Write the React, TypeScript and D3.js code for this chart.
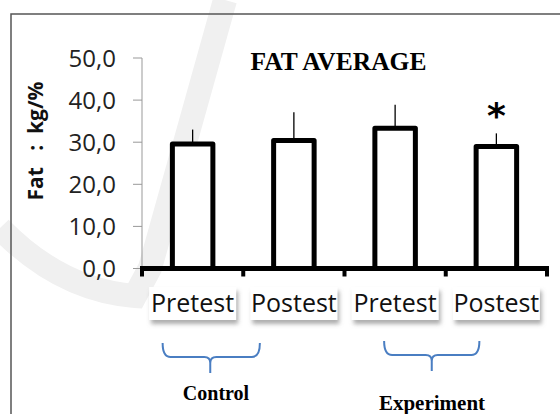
import React from "react";
import * as d3 from "d3";

const categories = ["Pretest", "Postest", "Pretest", "Postest"];
const means = [29.6, 30.4, 33.3, 29.0];
const errTops = [33.0, 37.1, 38.9, 32.1];
const yTicks = [0, 10, 20, 30, 40, 50];
const groups = ["Control", "Experiment"];
const title = "FAT AVERAGE";
const yLabel = "Fat   :  kg/%";

const W = 560;
const H = 414;

export default function App() {
  const x = d3
    .scaleBand<number>()
    .domain(categories.map((_, i) => i))
    .range([142, 547])
    .paddingInner(0.6)
    .paddingOuter(0.3);
  const y = d3.scaleLinear().domain([0, 50]).range([268.5, 58]);
  const step = x.step();
  const xc = (i: number) => (x(i) as number) + x.bandwidth() / 2;
  const bounds = d3.range(categories.length + 1).map((i) => 142 + i * step);
  const fmt = (v: number) => d3.format(".1f")(v).replace(".", ",");

  const brace = (l: number, r: number, c: number, top: number) => {
    const h = top + 14;
    return `M${l},${top} Q${l},${h} ${l + 8},${h} L${c - 6},${h} Q${c},${h} ${c},${h + 6} L${c},${h + 16} M${c},${h + 6} Q${c},${h} ${c + 6},${h} L${r - 8},${h} Q${r},${h} ${r},${top}`;
  };

  const braceDefs = [
    { l: xc(0) - 30, r: xc(1) - 34, c: (xc(0) + xc(1)) / 2 - 33, top: 343, tx: 216, ty: 400, fs: 20 },
    { l: xc(2) - 11, r: xc(3) - 17, c: (xc(2) + xc(3)) / 2 - 14, top: 341, tx: 432, ty: 410, fs: 21 },
  ];

  return (
    <svg width={W} height={H} style={{ position: "absolute", left: 0, top: 0, background: "#fff" }}>
      <defs>
        <filter id="sh" x="-20%" y="-30%" width="150%" height="180%">
          <feDropShadow dx="2" dy="4" stdDeviation="2" floodColor="#777" floodOpacity="0.6" />
        </filter>
      </defs>
      <rect width={W} height={H} fill="#fff" />
      {/* faint background swoosh */}
      <path
        d="M0,228 Q60,290 135,296 L150,268 L225,0"
        fill="none"
        stroke="#f0f0f0"
        strokeWidth={24}
      />
      {/* frame */}
      <path d={`M11,${H + 2} L11,14 L${W + 2},14`} fill="none" stroke="#555" strokeWidth={1.5} />

      {/* title */}
      <text x={338.5} y={70} textAnchor="middle" fontFamily="Liberation Serif, Times New Roman, serif" fontWeight="bold" fontSize={25.5} fill="#000">
        {title}
      </text>

      {/* y axis */}
      <line x1={142} x2={142} y1={y(50)} y2={y(0)} stroke="#999" strokeWidth={1} />
      {yTicks.map((t) => (
        <g key={t}>
          <line x1={133} x2={142} y1={y(t)} y2={y(t)} stroke="#999" strokeWidth={1} />
          <text x={116} y={y(t)} dy="0.36em" textAnchor="end" fontFamily="Open Sans, sans-serif" fontSize={24} fill="#222">
            {fmt(t)}
          </text>
        </g>
      ))}
      <text
        transform={`translate(43,${141}) rotate(-90)`}
        textAnchor="middle"
        fontFamily="Open Sans, sans-serif"
        fontWeight="bold"
        fontSize={21}
        fill="#111"
        style={{ whiteSpace: "pre" }}
      >
        {yLabel}
      </text>

      {/* bars */}
      {means.map((m, i) => (
        <g key={i}>
          <line x1={xc(i)} x2={xc(i)} y1={y(m)} y2={y(errTops[i])} stroke="#000" strokeWidth={1.3} />
          <rect
            x={x(i)}
            y={y(m)}
            width={x.bandwidth()}
            height={y(0) - y(m)}
            fill="#fff"
            stroke="#000"
            strokeWidth={5}
            strokeLinejoin="round"
          />
        </g>
      ))}
      <text x={xc(3)} y={128} textAnchor="middle" fontFamily="DejaVu Sans, sans-serif" fontWeight="bold" fontSize={36} fill="#000">
        *
      </text>

      {/* x axis */}
      <line x1={140} x2={549} y1={y(0)} y2={y(0)} stroke="#000" strokeWidth={5} />
      {bounds.map((b, i) => (
        <line key={i} x1={b} x2={b} y1={y(0)} y2={y(0) + 8} stroke="#000" strokeWidth={4} />
      ))}
      {categories.map((c, i) => (
        <g key={i}>
          <rect x={xc(i) - 43.5} y={287} width={87} height={33} fill="#fff" filter="url(#sh)" />
          <text x={xc(i)} y={312} textAnchor="middle" fontFamily="Open Sans, sans-serif" fontSize={25} fill="#111">
            {c}
          </text>
        </g>
      ))}

      {/* braces */}
      {braceDefs.map((b, i) => (
        <g key={i}>
          <path d={brace(b.l, b.r, b.c, b.top)} fill="none" stroke="#4a7ec2" strokeWidth={2} />
          <text x={b.tx} y={b.ty} textAnchor="middle" fontFamily="Liberation Serif, Times New Roman, serif" fontWeight="bold" fontSize={b.fs} fill="#000">
            {groups[i]}
          </text>
        </g>
      ))}
    </svg>
  );
}
